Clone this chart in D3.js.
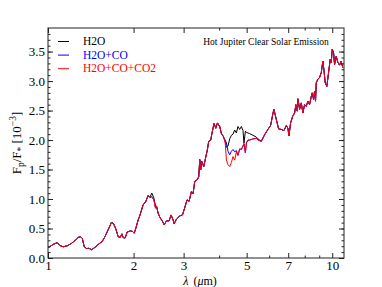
<!DOCTYPE html>
<html>
<head>
<meta charset="utf-8">
<script src="https://cdn.jsdelivr.net/npm/d3@7"></script>
<style>
  body { margin: 0; background: #fff; }
  text { font-family: "Liberation Serif", "Times New Roman", serif; }
</style>
</head>
<body>
<div id="chart"></div>
<script>
// wavelength grid (micron) shared by the three models
const wavelength = [
  1.002, 1.044, 1.078, 1.102, 1.132, 1.173, 1.211, 1.251, 1.278, 1.303,
  1.320, 1.341, 1.367, 1.393, 1.424, 1.463, 1.511, 1.551, 1.586, 1.628,
  1.674, 1.705, 1.733, 1.766, 1.795, 1.820, 1.839, 1.869, 1.899, 1.952,
  1.984, 2.010, 2.038, 2.076, 2.104, 2.161, 2.209, 2.251, 2.282, 2.319,
  2.357, 2.389, 2.409, 2.440, 2.475, 2.529, 2.562, 2.611, 2.668, 2.711,
  2.755, 2.777, 2.832, 2.908, 2.972, 3.011, 3.085, 3.135, 3.197, 3.239,
  3.283, 3.356, 3.391, 3.419, 3.446, 3.474, 3.531, 3.638, 3.677, 3.737,
  3.777, 3.838, 3.892, 3.946, 4.019, 4.075, 4.141, 4.162, 4.203, 4.244,
  4.299, 4.358, 4.418, 4.476, 4.537, 4.600, 4.660, 4.724, 4.790, 4.853,
  4.892, 4.948, 4.988, 5.053, 5.123, 5.262, 5.409, 5.479, 5.555, 5.631,
  5.783, 5.940, 6.071, 6.185, 6.235, 6.357, 6.477, 6.621, 6.761, 6.893,
  6.984, 7.041, 7.137, 7.255, 7.373, 7.450, 7.536, 7.573, 7.677, 7.783,
  7.884, 7.993, 8.104, 8.209, 8.323, 8.437, 8.506, 8.596, 8.665, 8.735,
  8.786, 8.900, 9.023, 9.148, 9.268, 9.343, 9.449, 9.572, 9.705, 9.840,
  9.920, 10.00, 10.11, 10.19, 10.33, 10.46, 10.61, 10.75, 10.89
];

// Fp/F* in units of 1e-3
const fluxH2O = [
  0.175, 0.233, 0.26, 0.21, 0.19, 0.21, 0.25, 0.306, 0.35, 0.36,
  0.335, 0.19, 0.16, 0.165, 0.14, 0.18, 0.24, 0.28, 0.36, 0.48,
  0.61, 0.57, 0.49, 0.36, 0.35, 0.41, 0.345, 0.34, 0.44, 0.46,
  0.45, 0.42, 0.505, 0.646, 0.72, 0.90, 0.96, 1.06, 1.03, 1.10,
  1.02, 0.88, 0.88, 0.76, 0.69, 0.62, 0.56, 0.63, 0.63, 0.73,
  0.646, 0.58, 0.66, 0.714, 0.73, 0.816, 0.986, 0.96, 1.13, 1.09,
  1.30, 1.33, 1.38, 1.67, 1.50, 1.64, 1.55, 1.84, 1.98, 2.00,
  2.12, 2.28, 2.20, 2.29, 2.23, 2.11, 2.06, 2.03, 1.97, 1.88,
  1.90, 2.02, 2.08, 2.10, 2.17, 2.12, 2.23, 2.18, 2.23, 2.16,
  1.95, 2.15, 2.13, 2.12, 2.11, 2.08, 2.05, 2.02, 2.00, 1.98,
  2.09, 2.18, 2.25, 2.45, 2.52, 2.35, 2.19, 2.18, 2.16, 2.245,
  2.20, 2.07, 2.29, 2.40, 2.46, 2.60, 2.49, 2.70, 2.52, 2.63,
  2.46, 2.60, 2.57, 2.66, 2.60, 2.74, 2.80, 2.69, 2.83, 2.66,
  2.97, 3.03, 3.06, 3.14, 3.34, 3.20, 2.97, 2.91, 3.14, 3.37,
  3.31, 3.54, 3.48, 3.28, 3.42, 3.32, 3.27, 3.34, 3.23
];

const fluxH2OCO = [
  0.175, 0.233, 0.26, 0.21, 0.19, 0.21, 0.25, 0.306, 0.35, 0.36,
  0.335, 0.19, 0.16, 0.165, 0.14, 0.18, 0.24, 0.28, 0.36, 0.48,
  0.61, 0.57, 0.49, 0.36, 0.35, 0.41, 0.345, 0.34, 0.44, 0.46,
  0.45, 0.42, 0.505, 0.646, 0.72, 0.90, 0.96, 1.06, 1.025, 1.04,
  0.99, 0.845, 0.88, 0.76, 0.69, 0.62, 0.56, 0.63, 0.63, 0.73,
  0.646, 0.58, 0.66, 0.714, 0.73, 0.816, 0.986, 0.96, 1.13, 1.09,
  1.30, 1.33, 1.38, 1.67, 1.50, 1.64, 1.55, 1.84, 1.98, 2.00,
  2.12, 2.28, 2.20, 2.29, 2.23, 2.11, 2.06, 2.03, 2.00, 1.95,
  1.81, 1.75, 1.81, 1.84, 1.80, 1.82, 1.74, 1.85, 1.84, 1.90,
  1.94, 1.78, 1.95, 2.00, 2.00, 2.02, 2.03, 2.00, 1.99, 1.98,
  2.09, 2.18, 2.25, 2.45, 2.52, 2.35, 2.19, 2.18, 2.16, 2.245,
  2.20, 2.07, 2.29, 2.40, 2.46, 2.60, 2.49, 2.70, 2.52, 2.63,
  2.46, 2.60, 2.57, 2.66, 2.60, 2.74, 2.80, 2.69, 2.83, 2.66,
  2.97, 3.03, 3.06, 3.14, 3.34, 3.20, 2.97, 2.91, 3.14, 3.37,
  3.31, 3.54, 3.48, 3.28, 3.42, 3.32, 3.27, 3.34, 3.23
];

const fluxH2OCOCO2 = [
  0.175, 0.233, 0.26, 0.21, 0.19, 0.21, 0.25, 0.306, 0.35, 0.36,
  0.335, 0.19, 0.16, 0.165, 0.14, 0.18, 0.24, 0.28, 0.36, 0.48,
  0.61, 0.57, 0.49, 0.36, 0.35, 0.41, 0.345, 0.34, 0.44, 0.46,
  0.45, 0.42, 0.505, 0.646, 0.72, 0.90, 0.96, 1.06, 1.025, 1.04,
  0.99, 0.845, 0.88, 0.76, 0.69, 0.62, 0.56, 0.63, 0.63, 0.73,
  0.646, 0.58, 0.66, 0.714, 0.73, 0.816, 0.986, 0.96, 1.13, 1.09,
  1.30, 1.33, 1.38, 1.67, 1.50, 1.64, 1.55, 1.84, 1.98, 2.00,
  2.12, 2.28, 2.20, 2.29, 2.23, 2.11, 2.06, 2.03, 1.95, 1.66,
  1.58, 1.55, 1.62, 1.72, 1.66, 1.80, 1.74, 1.85, 1.84, 1.90,
  1.94, 1.78, 1.95, 2.00, 2.00, 2.02, 2.03, 2.00, 1.99, 1.98,
  2.09, 2.18, 2.25, 2.45, 2.52, 2.35, 2.19, 2.18, 2.16, 2.245,
  2.20, 2.07, 2.29, 2.40, 2.46, 2.60, 2.49, 2.70, 2.52, 2.63,
  2.46, 2.60, 2.57, 2.66, 2.60, 2.74, 2.80, 2.69, 2.83, 2.66,
  2.97, 3.03, 3.06, 3.14, 3.34, 3.20, 2.97, 2.91, 3.14, 3.37,
  3.31, 3.54, 3.48, 3.28, 3.42, 3.32, 3.27, 3.34, 3.23
];

const seriesNames = ["H2O", "H2O+CO", "H2O+CO+CO2"];
const seriesColors = ["#000000", "#0000ff", "#ff0000"];
const seriesValues = [fluxH2O, fluxH2OCO, fluxH2OCOCO2];

const xMajorTicks = [1, 2, 3, 5, 7, 10];
const xMinorTicks = [4, 6, 8, 9];
const yMajorTicks = [0, 0.5, 1, 1.5, 2, 2.5, 3, 3.5];
const yMinorTicks = d3.range(0, 39).map(d => d / 10);

const width = 382, height = 287;
const margin = {top: 28, right: 38, bottom: 29, left: 48};

const x = d3.scaleLog().domain([1, 11]).range([margin.left, width - margin.right]);
const y = d3.scaleLinear().domain([0, 3.9]).range([height - margin.bottom, margin.top]);

const svg = d3.select("#chart").append("svg")
  .attr("width", width)
  .attr("height", height);

const plotBottom = height - margin.bottom, plotTop = margin.top;
const plotLeft = margin.left, plotRight = width - margin.right;

// curves, black under blue under red
const line = d3.line()
  .x(d => x(d[0]))
  .y(d => y(d[1]));

svg.append("defs").append("clipPath").attr("id", "clip")
  .append("rect")
  .attr("x", plotLeft).attr("y", plotTop)
  .attr("width", plotRight - plotLeft)
  .attr("height", plotBottom - plotTop);

seriesValues.forEach((vals, i) => {
  svg.append("path")
    .datum(wavelength.map((w, j) => [w, vals[j]]))
    .attr("clip-path", "url(#clip)")
    .attr("fill", "none")
    .attr("stroke", seriesColors[i])
    .attr("stroke-width", 1)
    .attr("stroke-linejoin", "round")
    .attr("d", line);
});

// axes, ticks pointing inward on all four sides
const axisColor = "#222";
function styleAxis(g){
  g.select(".domain").remove();
  g.selectAll("line").attr("stroke", axisColor);
  g.selectAll("text").attr("fill", "#000").style("font-size", "13px")
    .style("font-family", "'Liberation Serif', serif");
}

svg.append("g").attr("transform", `translate(0,${plotBottom})`)
  .call(d3.axisBottom(x).tickValues(xMajorTicks).tickFormat(d3.format("d"))
    .tickSizeInner(-5).tickPadding(3))
  .call(styleAxis);
svg.append("g").attr("transform", `translate(0,${plotBottom})`)
  .call(d3.axisBottom(x).tickValues(xMinorTicks).tickFormat("").tickSizeInner(-2.5))
  .call(styleAxis);
svg.append("g").attr("transform", `translate(0,${plotTop})`)
  .call(d3.axisTop(x).tickValues(xMajorTicks).tickFormat("").tickSizeInner(-5))
  .call(styleAxis);
svg.append("g").attr("transform", `translate(0,${plotTop})`)
  .call(d3.axisTop(x).tickValues(xMinorTicks).tickFormat("").tickSizeInner(-2.5))
  .call(styleAxis);

svg.append("g").attr("transform", `translate(${plotLeft},0)`)
  .call(d3.axisLeft(y).tickValues(yMajorTicks).tickFormat(d3.format(".1f"))
    .tickSizeInner(-5).tickPadding(3))
  .call(styleAxis);
svg.append("g").attr("transform", `translate(${plotLeft},0)`)
  .call(d3.axisLeft(y).tickValues(yMinorTicks).tickFormat("").tickSizeInner(-2.5))
  .call(styleAxis);
svg.append("g").attr("transform", `translate(${plotRight},0)`)
  .call(d3.axisRight(y).tickValues(yMajorTicks).tickFormat("").tickSizeInner(-5))
  .call(styleAxis);
svg.append("g").attr("transform", `translate(${plotRight},0)`)
  .call(d3.axisRight(y).tickValues(yMinorTicks).tickFormat("").tickSizeInner(-2.5))
  .call(styleAxis);

svg.append("rect")
  .attr("x", plotLeft).attr("y", plotTop)
  .attr("width", plotRight - plotLeft).attr("height", plotBottom - plotTop)
  .attr("fill", "none").attr("stroke", axisColor).attr("stroke-width", 1);

// labels
svg.append("text")
  .attr("x", 200).attr("y", 284.5)
  .attr("text-anchor", "middle").style("font-size", "12px")
  .attr("word-spacing", "2px")
  .html('<tspan font-style="italic">λ</tspan> (<tspan font-style="italic">μ</tspan>m)');

svg.append("text")
  .attr("transform", `translate(20.5,${(plotTop + plotBottom) / 2}) rotate(-90)`)
  .attr("text-anchor", "middle").style("font-size", "13px")
  .html('F<tspan font-size="9.5px" dy="3">p</tspan><tspan dy="-3">/F</tspan><tspan font-size="9.5px" dy="3">*</tspan><tspan dy="-3"> [10</tspan><tspan font-size="9.5px" dy="-5">−3</tspan><tspan dy="5">]</tspan>');

svg.append("text")
  .attr("x", 266).attr("y", 45)
  .attr("text-anchor", "middle").style("font-size", "9.5px")
  .text("Hot Jupiter Clear Solar Emission");

// legend
const legend = svg.append("g");
seriesNames.forEach((name, i) => {
  const ly = 41.5 + i * 13.6;
  legend.append("line")
    .attr("x1", 58).attr("x2", 69).attr("y1", ly).attr("y2", ly)
    .attr("stroke", seriesColors[i]).attr("stroke-width", 1);
  legend.append("text")
    .attr("x", 83).attr("y", ly + 3.6)
    .attr("fill", seriesColors[i]).style("font-size", "11.5px")
    .text(name);
});
</script>
</body>
</html>
